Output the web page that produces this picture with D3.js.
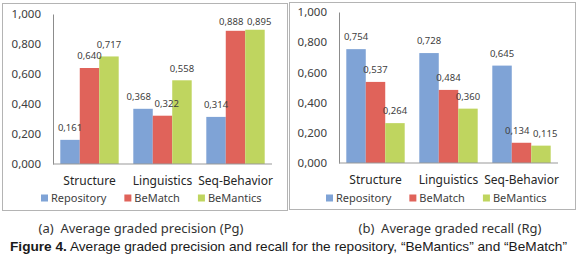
<!DOCTYPE html>
<html>
<head>
<meta charset="utf-8">
<script src="https://cdn.jsdelivr.net/npm/d3@7"></script>
<style>
    body { margin: 0; background: #fff; }
    svg { display: block; font-family: "Noto Sans", sans-serif; }
</style>
</head>
<body>
<div id="viz"></div>
<script>
const width = 577;
const height = 263;

// data
const categories = ["Structure", "Linguistics", "Seq-Behavior"];
const seriesNames = ["Repository", "BeMatch", "BeMantics"];
const seriesColors = ["#7fa3d6", "#e0635a", "#bfd55f"];

const precisionRepository = [0.161, 0.368, 0.314];
const precisionBeMatch = [0.640, 0.322, 0.888];
const precisionBeMantics = [0.717, 0.558, 0.895];

const recallRepository = [0.754, 0.728, 0.645];
const recallBeMatch = [0.537, 0.484, 0.134];
const recallBeMantics = [0.264, 0.360, 0.115];

const yTicks = [0, 0.2, 0.4, 0.6, 0.8, 1.0];

const svg = d3.select("#viz")
    .append("svg")
    .attr("width", width)
    .attr("height", height)
    .attr("viewBox", `0 0 ${width} ${height}`);

const fmt = d => d3.format(".3f")(d).replace(".", ",");

const panels = [
    {
        frame: {x: 2.5, y: 3.5, w: 285, h: 207},
        x0: 53, x1: 272, yBottom: 164, yTop: 14,
        series: [precisionRepository, precisionBeMatch, precisionBeMantics],
        legendX: 41,
        caption: "(a)\u00a0\u00a0Average graded precision (Pg)",
        captionX: 141
    },
    {
        frame: {x: 289.5, y: 2.5, w: 286, h: 207},
        x0: 339, x1: 558, yBottom: 163, yTop: 12,
        series: [recallRepository, recallBeMatch, recallBeMantics],
        legendX: 326,
        caption: "(b)\u00a0\u00a0Average graded recall (Rg)",
        captionX: 450
    }
];

const drawPanel = p => {
    const g = svg.append("g");

    g.append("rect")
        .attr("x", p.frame.x)
        .attr("y", p.frame.y)
        .attr("width", p.frame.w)
        .attr("height", p.frame.h)
        .attr("fill", "#fff")
        .attr("stroke", "#b4b4b4");

    const yScale = d3.scaleLinear()
        .domain([0, 1])
        .range([p.yBottom, p.yTop]);

    const xScale = d3.scaleBand()
        .domain(categories)
        .range([p.x0, p.x1])
        .paddingInner(0.2)
        .paddingOuter(0.1);

    const xSub = d3.scaleBand()
        .domain(seriesNames)
        .range([0, xScale.bandwidth()]);

    const color = d3.scaleOrdinal()
        .domain(seriesNames)
        .range(seriesColors);

    const rows = categories.flatMap((c, i) =>
        seriesNames.map((s, j) => ({cat: c, series: s, value: p.series[j][i]})));

    // label positions, pushed apart sideways when neighbours collide
    rows.forEach(d => {
        d.lx = xScale(d.cat) + xSub(d.series) + xSub.bandwidth() / 2;
        d.ly = Math.max(yScale(d.value) - 12, p.yTop + 8);
    });
    const labelW = 28;
    for (let k = 0; k < rows.length - 1; k++) {
        const a = rows[k], b = rows[k + 1];
        if (a.cat !== b.cat) continue;
        const gap = b.lx - a.lx;
        if (Math.abs(a.ly - b.ly) < 10 && gap < labelW) {
            const push = (labelW - gap) / 2;
            a.lx -= push;
            b.lx += push;
        }
    }

    // y axis
    const yAxisG = g.append("g")
        .attr("transform", `translate(${p.x0},0)`)
        .call(d3.axisLeft(yScale)
            .tickValues(yTicks)
            .tickFormat(fmt)
            .tickSize(0)
            .tickPadding(12));
    yAxisG.select(".domain").attr("stroke", "#8c8c8c");
    yAxisG.selectAll("text")
        .attr("font-family", "Noto Sans")
        .attr("font-size", "11.5px")
        .attr("fill", "#404040");

    // bars
    g.selectAll("rect.bar").data(rows)
        .enter().append("rect")
            .attr("class", "bar")
            .attr("x", d => xScale(d.cat) + xSub(d.series))
            .attr("y", d => yScale(d.value))
            .attr("width", xSub.bandwidth())
            .attr("height", d => yScale(0) - yScale(d.value))
            .attr("fill", d => color(d.series));

    // baseline
    g.append("line")
        .attr("x1", p.x0)
        .attr("x2", p.x1)
        .attr("y1", yScale(0))
        .attr("y2", yScale(0))
        .attr("stroke", "#999");

    // data labels
    g.selectAll("text.val").data(rows)
        .enter().append("text")
            .attr("class", "val")
            .attr("x", d => d.lx)
            .attr("y", d => d.ly)
            .attr("dy", "0.35em")
            .attr("text-anchor", "middle")
            .attr("font-size", "9.5px")
            .attr("fill", "#404040")
            .text(d => fmt(d.value));

    // category labels
    const xAxisG = g.append("g")
        .attr("transform", `translate(0,${yScale(0)})`)
        .call(d3.axisBottom(xScale).tickSize(0).tickPadding(12));
    xAxisG.select(".domain").remove();
    xAxisG.selectAll("text")
        .attr("font-family", "Noto Sans")
        .attr("font-size", "12px")
        .attr("fill", "#262626");

    // legend
    let lx = p.legendX;
    const ly = 198;
    seriesNames.forEach(s => {
        g.append("rect")
            .attr("x", lx)
            .attr("y", ly - 3.5)
            .attr("width", 7)
            .attr("height", 7)
            .attr("fill", color(s));
        const t = g.append("text")
            .attr("x", lx + 10)
            .attr("y", ly)
            .attr("dy", "0.35em")
            .attr("font-size", "11px")
            .attr("fill", "#404040")
            .text(s);
        lx += 10 + t.node().getComputedTextLength() + 18;
    });

    // caption under the panel
    svg.append("text")
        .attr("x", p.captionX)
        .attr("y", 228)
        .attr("dy", "0.35em")
        .attr("text-anchor", "middle")
        .attr("font-size", "13px")
        .attr("fill", "#333")
        .text(p.caption);
};

panels.forEach(drawPanel);

const fig = svg.append("text")
    .attr("x", 10)
    .attr("y", 246)
    .attr("dy", "0.35em")
    .attr("textLength", 557)
    .attr("lengthAdjust", "spacingAndGlyphs")
    .attr("font-family", "Liberation Sans, Arial, sans-serif")
    .attr("font-size", "13px")
    .attr("fill", "#1a1a1a");
fig.append("tspan")
    .attr("font-weight", "bold")
    .text("Figure 4.");
fig.append("tspan")
    .text(" Average graded precision and recall for the repository, \u201cBeMantics\u201d and \u201cBeMatch\u201d");
</script>
</body>
</html>
